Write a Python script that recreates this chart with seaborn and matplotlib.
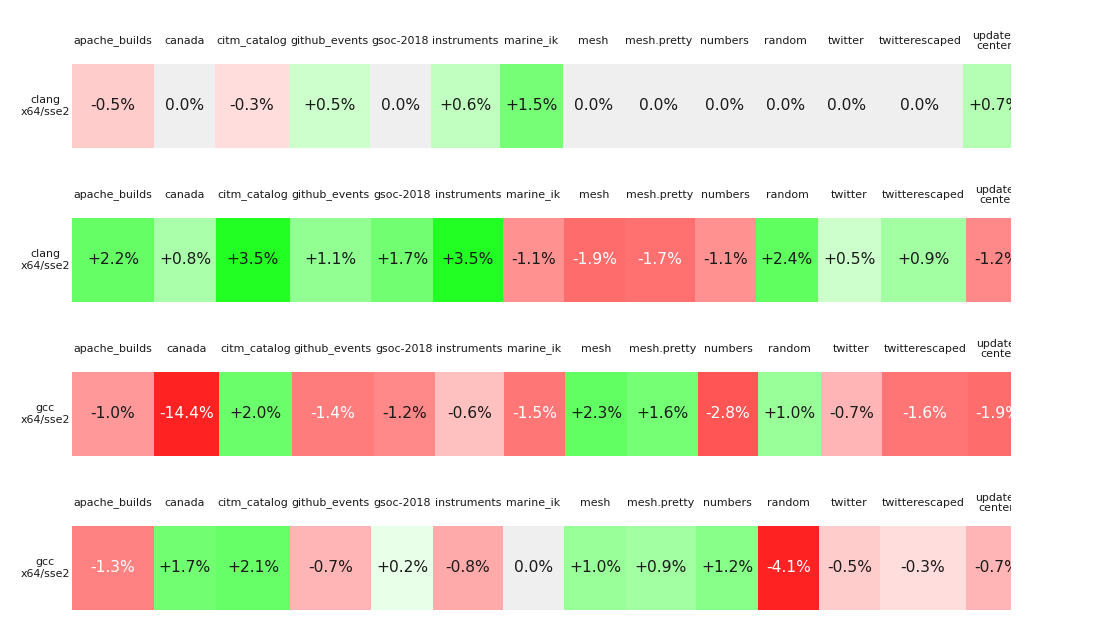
import numpy as np
import pandas as pd
import seaborn as sns
import matplotlib.pyplot as plt
from matplotlib import transforms
from matplotlib.colors import LinearSegmentedColormap

# benchmark columns (header text as shown in each strip)
benchmarks = ["apache_builds", "canada", "citm_catalog", "github_events", "gsoc-2018",
              "instruments", "marine_ik", "mesh", "mesh.pretty", "numbers", "random",
              "twitter", "twitterescaped", "update-\ncenter"]

row_labels = ["clang\nx64/sse2", "clang\nx64/sse2", "gcc\nx64/sse2", "gcc\nx64/sse2"]

# percent change per benchmark
clang_a = [-0.5, 0.0, -0.3, 0.5, 0.0, 0.6, 1.5, 0.0, 0.0, 0.0, 0.0, 0.0, 0.0, 0.7]
clang_b = [2.2, 0.8, 3.5, 1.1, 1.7, 3.5, -1.1, -1.9, -1.7, -1.1, 2.4, 0.5, 0.9, -1.2]
gcc_a = [-1.0, -14.4, 2.0, -1.4, -1.2, -0.6, -1.5, 2.3, 1.6, -2.8, 1.0, -0.7, -1.6, -1.9]
gcc_b = [-1.3, 1.7, 2.1, -0.7, 0.2, -0.8, 0.0, 1.0, 0.9, 1.2, -4.1, -0.5, -0.3, -0.7]

strips = [clang_a, clang_b, gcc_a, gcc_b]

# red -> grey -> green scale, saturating around +/-3.5%
mag = [4.5, 3.5, 2.8, 2.0, 1.5, 1.2, 1.0, 0.8, 0.7, 0.6, 0.5, 0.3, 0.2]
chan = [34, 34, 85, 106, 118, 136, 153, 170, 181, 192, 204, 221, 232]
vlim = 4.5
nodes = []
for m, c in zip(mag, chan):
    nodes.append(((-m + vlim) / (2 * vlim), (1.0, c / 255, c / 255)))
nodes.append((0.5, (0xef / 255, 0xef / 255, 0xef / 255)))
for m, c in zip(mag[::-1], chan[::-1]):
    nodes.append(((m + vlim) / (2 * vlim), (c / 255, 1.0, c / 255)))
cmap = LinearSegmentedColormap.from_list("diff", nodes, N=4096)


def fmt(v):
    return "0.0%" if v == 0 else f"{v:+.1f}%"


sns.set_style("white")
W, H = 1100, 640
fig = plt.figure(figsize=(W / 100, H / 100), dpi=100)
renderer = fig.canvas.get_renderer()

label_size = 7.9
value_size = 11.2
left, right = 72, 1011
cell_h = 84
first_top = 64
step = 154


def text_width(s, size):
    t = fig.text(0, 0, s, fontsize=size)
    w = t.get_window_extent(renderer).width
    t.remove()
    return w


label_w = [text_width(b, label_size) for b in benchmarks]
clip = transforms.TransformedBbox(
    transforms.Bbox.from_extents(left / W, 0, right / W, 1), fig.transFigure)

for i, (vals, rlab) in enumerate(zip(strips, row_labels)):
    widths = [max(lw + 3, text_width(fmt(v), value_size) + 10, 61)
              for lw, v in zip(label_w, vals)]
    edges = np.concatenate([[0], np.round(np.cumsum(widths))]).astype(int)
    counts = np.diff(edges)

    # one heatmap column per pixel so cells can have different widths
    df = pd.DataFrame([np.repeat(vals, counts)])
    top = first_top + step * i
    ax = fig.add_axes([left / W, (H - top - cell_h) / H, (right - left) / W, cell_h / H])
    sns.heatmap(df, cmap=cmap, vmin=-vlim, vmax=vlim, cbar=False,
                xticklabels=False, yticklabels=False, ax=ax)
    ax.set_xlim(0, right - left)

    centers = (edges[:-1] + edges[1:]) / 2
    hdr = transforms.blended_transform_factory(ax.transData, ax.transAxes)
    for x, v, b in zip(centers, vals, benchmarks):
        ax.text(x, 0.5, fmt(v), ha="center", va="center", fontsize=value_size,
                color="white" if v <= -1.25 else "#1a1a1a", clip_on=True)
        t = fig.text(x, 1 + 23 / cell_h, b, transform=hdr, ha="center", va="center",
                     fontsize=label_size, color="#1a1a1a", multialignment="center",
                     linespacing=1.1)
        t.set_clip_box(clip)
        t.set_clip_on(True)

    fig.text((left - 2) / W, (H - top - cell_h / 2) / H, rlab, ha="right", va="center",
             multialignment="center", fontsize=label_size, color="#1a1a1a")

fig.savefig("out.png", dpi=100)
